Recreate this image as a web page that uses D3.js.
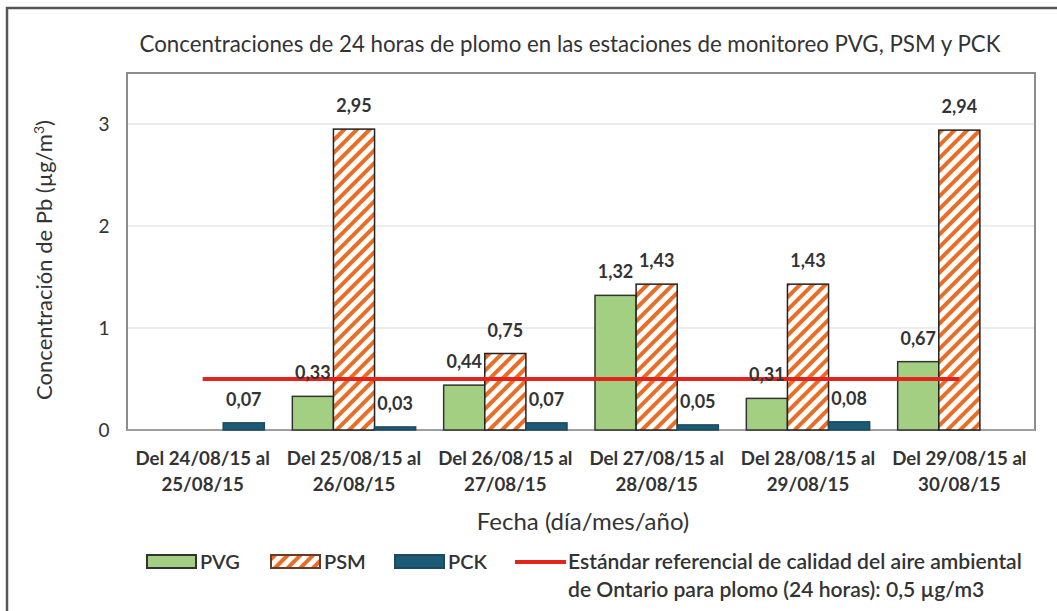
<!DOCTYPE html>
<html lang="es">
<head>
<meta charset="UTF-8">
<title>Concentraciones de plomo</title>
<script src="https://d3js.org/d3.v7.min.js"></script>
<style>
    body { margin: 0; background: #fff; }
    svg { font-family: Lato, "Open Sans", sans-serif; }
    .lbl { font-size: 18px; fill: #333; font-weight: bold; }
</style>
</head>
<body>
<div id="chart"></div>
<script>
    // data
    const periods = [
        ["Del 24/08/15 al", "25/08/15"],
        ["Del 25/08/15 al", "26/08/15"],
        ["Del 26/08/15 al", "27/08/15"],
        ["Del 27/08/15 al", "28/08/15"],
        ["Del 28/08/15 al", "29/08/15"],
        ["Del 29/08/15 al", "30/08/15"]
    ];
    const pvg = [null, 0.33, 0.44, 1.32, 0.31, 0.67];
    const psm = [null, 2.95, 0.75, 1.43, 1.43, 2.94];
    const pck = [0.07, 0.03, 0.07, 0.05, 0.08, null];
    const standard = [0.5, 0.5, 0.5, 0.5, 0.5, 0.5];
    const yTicks = [0, 1, 2, 3];
    const seriesNames = ["PVG", "PSM", "PCK"];

    const W = 1057, H = 611;
    const pLeft = 127, pRight = 1035, pTop = 73, pBottom = 430;

    const svg = d3.select("#chart").append("svg")
        .attr("width", W).attr("height", H);

    const defs = svg.append("defs");
    const pat = defs.append("pattern")
        .attr("id", "hatch")
        .attr("patternUnits", "userSpaceOnUse")
        .attr("width", 9).attr("height", 9)
        .attr("patternTransform", "rotate(45)");
    pat.append("rect").attr("width", 9).attr("height", 9).attr("fill", "#fff");
    pat.append("rect").attr("width", 4).attr("height", 9).attr("fill", "#ea6d26");

    // outer frame
    svg.append("rect")
        .attr("x", 7).attr("y", 8)
        .attr("width", 1060).attr("height", 620)
        .attr("fill", "none").attr("stroke", "#555").attr("stroke-width", 2.5);

    const idx = periods.map((d, i) => i);
    const x = d3.scaleBand().domain(idx).range([pLeft, pRight]);
    const inner = d3.scaleBand().domain(seriesNames)
        .range([14, x.bandwidth() - 14]);
    const y = d3.scaleLinear().domain([0, 3.5]).range([pBottom, pTop]);

    // gridlines
    svg.append("g").selectAll("line")
        .data(yTicks.slice(1))
        .join("line")
        .attr("x1", pLeft).attr("x2", pRight)
        .attr("y1", d => y(d)).attr("y2", d => y(d))
        .attr("stroke", "#d9d9d9").attr("stroke-width", 1);

    // plot area frame
    svg.append("rect")
        .attr("x", pLeft).attr("y", pTop)
        .attr("width", pRight - pLeft).attr("height", pBottom - pTop)
        .attr("fill", "none").attr("stroke", "#8c8c8c").attr("stroke-width", 2);

    // y axis labels
    svg.append("g").selectAll("text")
        .data(yTicks)
        .join("text")
        .attr("class", "lbl")
        .attr("x", 104).attr("y", d => y(d) + 7)
        .attr("text-anchor", "middle")
        .style("font-size", "19px")
        .style("font-weight", "normal")
        .text(d => d);

    // x axis line
    svg.append("line")
        .attr("x1", pLeft).attr("x2", pRight)
        .attr("y1", pBottom).attr("y2", pBottom)
        .attr("stroke", "#a6a6a6").attr("stroke-width", 1.5);

    // x tick labels
    const xl = svg.append("g").selectAll("text")
        .data(periods)
        .join("text")
        .attr("class", "lbl")
        .style("font-size", "18.7px")
        .attr("text-anchor", "middle")
        .attr("x", (d, i) => x(i) + x.bandwidth() / 2)
        .attr("y", 465);
    xl.append("tspan").text(d => d[0]);
    xl.append("tspan")
        .attr("x", (d, i) => x(i) + x.bandwidth() / 2)
        .attr("dy", 26)
        .text(d => d[1]);

    const series = [
        { name: "PVG", values: pvg, fill: "#a3cf83", stroke: "#333" },
        { name: "PSM", values: psm, fill: "url(#hatch)", stroke: "#222" },
        { name: "PCK", values: pck, fill: "#1d5a76", stroke: "#1d4a5e" }
    ];

    series.forEach(s => {
        const pts = s.values.map((v, i) => ({ i, v })).filter(d => d.v !== null);
        svg.append("g").selectAll("rect")
            .data(pts)
            .join("rect")
            .attr("x", d => x(d.i) + inner(s.name))
            .attr("y", d => y(d.v))
            .attr("width", inner.bandwidth())
            .attr("height", d => y(0) - y(d.v))
            .attr("fill", s.fill)
            .attr("stroke", s.stroke).attr("stroke-width", 1.5);
    });

    // reference line
    const line = d3.line()
        .x((d, i) => x(i) + x.bandwidth() / 2)
        .y(d => y(d));
    svg.append("path")
        .attr("d", line(standard))
        .attr("fill", "none")
        .attr("stroke", "#e3231c").attr("stroke-width", 4);

    // data labels
    series.forEach(s => {
        const pts = s.values.map((v, i) => ({ i, v })).filter(d => d.v !== null);
        svg.append("g").selectAll("text")
            .data(pts)
            .join("text")
            .attr("class", "lbl")
            .attr("text-anchor", "middle")
            .attr("x", d => x(d.i) + inner(s.name) + inner.bandwidth() / 2)
            .attr("y", d => y(d.v) - 17)
            .text(d => d3.format(".2f")(d.v).replace(".", ","));
    });

    // titles
    svg.append("text")
        .attr("x", 570).attr("y", 52)
        .attr("text-anchor", "middle")
        .style("font-size", "22.3px").attr("fill", "#333")
        .text("Concentraciones de 24 horas de plomo en las estaciones de monitoreo PVG, PSM y PCK");

    svg.append("text")
        .attr("transform", "translate(52,260) rotate(-90)")
        .attr("text-anchor", "middle")
        .style("font-size", "22px").attr("fill", "#333")
        .html("Concentración de Pb (µg/m<tspan dy='-8' font-size='14px'>3</tspan><tspan dy='8'>)</tspan>");

    svg.append("text")
        .attr("x", 583).attr("y", 530)
        .attr("text-anchor", "middle")
        .style("font-size", "24px").attr("fill", "#333")
        .text("Fecha (día/mes/año)");

    // legend
    const lg = svg.append("g");
    const swX = [147, 271, 395];
    series.forEach((s, k) => {
        lg.append("rect")
            .attr("x", swX[k]).attr("y", 555)
            .attr("width", 49).attr("height", 13)
            .attr("fill", s.fill)
            .attr("stroke", k === 1 ? "#6b3a22" : s.stroke).attr("stroke-width", 2);
        lg.append("text")
            .attr("class", "lbl")
            .style("font-size", "20px")
            .style("font-weight", "600")
            .attr("x", swX[k] + 53).attr("y", 569)
            .text(s.name);
    });
    lg.append("line")
        .attr("x1", 515).attr("x2", 566)
        .attr("y1", 562).attr("y2", 562)
        .attr("stroke", "#e3231c").attr("stroke-width", 4);
    const lt = lg.append("text")
        .attr("class", "lbl")
        .style("font-size", "21.1px")
        .style("font-weight", "600")
        .attr("x", 568).attr("y", 569);
    lt.append("tspan").text("Estándar referencial de calidad del aire ambiental");
    lt.append("tspan").attr("x", 568).attr("dy", 28)
        .text("de Ontario para plomo (24 horas): 0,5 µg/m3");
</script>
</body>
</html>
